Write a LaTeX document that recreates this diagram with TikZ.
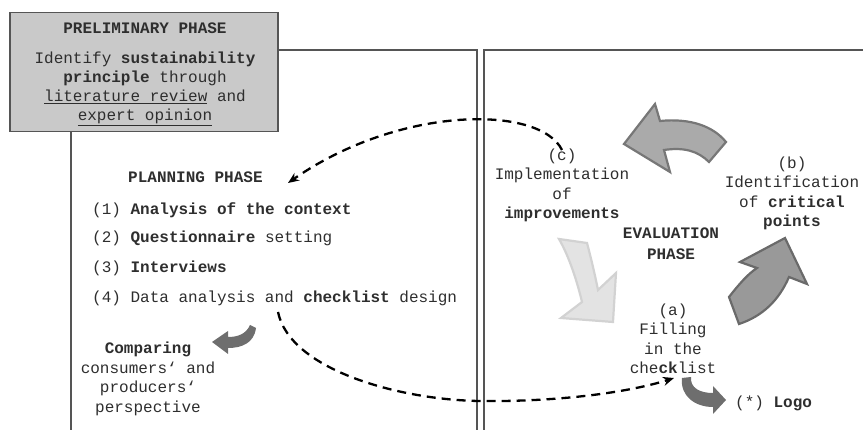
\documentclass[tikz,border=0pt]{standalone}
\usepackage{fontspec}
\setmainfont{Liberation Mono}
\usetikzlibrary{arrows.meta}
\definecolor{textc}{HTML}{2E2E2E}
\definecolor{boxline}{HTML}{555555}
\definecolor{prelimfill}{HTML}{C9C9C9}
\definecolor{arrowmid}{HTML}{AAAAAA}
\definecolor{arrowmidline}{HTML}{777777}
\definecolor{arrowlight}{HTML}{E3E3E3}
\definecolor{arrowlightline}{HTML}{D2D2D2}
\definecolor{arrowdark}{HTML}{999999}
\definecolor{arrowdarkline}{HTML}{6A6A6A}
\definecolor{smallarrow}{HTML}{6E6E6E}
\tikzset{
  txt/.style={font=\fontsize{16}{19.5}\selectfont, text=textc, inner sep=0pt, align=center},
  txtl/.style={font=\fontsize{16}{19.5}\selectfont, text=textc, inner sep=0pt, anchor=west},
  phasebox/.style={draw=boxline, line width=1.3pt},
  prelimbox/.style={draw=boxline, line width=1.6pt, fill=prelimfill},
  dashconn/.style={draw=black, line width=2.3pt, dash pattern=on 9pt off 6pt, -{Stealth[length=11pt,width=9pt]}},
  bigarrowmid/.style={fill=arrowmid, draw=arrowmidline, line width=2.2pt, line join=miter},
  bigarrowlight/.style={fill=arrowlight, draw=arrowlightline, line width=2.2pt, line join=miter},
  bigarrowdark/.style={fill=arrowdark, draw=arrowdarkline, line width=2.2pt, line join=miter},
  smallarr/.style={fill=smallarrow, draw=none}
}
\begin{document}
\begin{tikzpicture}[x=1pt,y=-1pt]
\useasboundingbox (0,0) rectangle (863,430);
% phase boxes
\draw[phasebox] (71,440) -- (71,50) -- (477,50) -- (477,440);
\draw[phasebox] (484,440) -- (484,50) -- (875,50);
% preliminary box
\node[prelimbox, minimum width=268pt, minimum height=119pt, inner sep=0pt] (prelim) at (144,72) {};
\node[txt] (prelimtitle) at (145,28) {\textbf{PRELIMINARY PHASE}};
\node[txt, font=\fontsize{16}{19}\selectfont] (prelimbody) at (145,89) {Identify \textbf{sustainability}\\\textbf{principle} through\\\underline{literature review} and\\\underline{expert opinion}};
% planning phase
\node[txtl] (plantitle) at (128,177) {\textbf{PLANNING PHASE}};
\node[txtl] (step1) at (92,210) {(1) \textbf{Analysis of the context}};
\node[txtl] (step2) at (92,238) {(2) \textbf{Questionnaire} setting};
\node[txtl] (step3) at (92,268) {(3) \textbf{Interviews}};
\node[txtl] (step4) at (92,298) {(4) Data analysis and \textbf{checklist} design};
\node[txt] (compare) at (148,379) {\textbf{Comparing}\\consumers` and\\producers`\\perspective};
% evaluation phase
\node[txt] (stepc) at (562,185.5) {(c)\\Implementation\\of\\\textbf{improvements}};
\node[txt] (stepb) at (792,193.5) {(b)\\Identification\\of \textbf{critical}\\\textbf{points}};
\node[txt, font=\fontsize{16}{21}\selectfont] (evaltitle) at (671,244) {\textbf{EVALUATION}\\\textbf{PHASE}};
\node[txt] (stepa) at (673,339) {(a)\\Filling\\in the\\che\textbf{ck}list};
\node[txtl] (logo) at (735,403) {(*) \textbf{Logo}};
% big cycle arrows
\path[bigarrowmid] (624,144) -- (655,104) -- (660,121) .. controls (690,118) and (713,126) .. (726,142) -- (709,162) .. controls (698,151) and (684,147) .. (664,150) -- (670,172) -- cycle;
\path[bigarrowlight] (559,239) -- (587,243) .. controls (591,258) and (595,275) .. (598,290) -- (616,273) -- (613,322) -- (561,318) -- (582,302) .. controls (578,285) and (570,258) .. cycle;
\path[bigarrowdark] (729,297) .. controls (740,283) and (748,274) .. (757,268) -- (740,262) -- (785,238) -- (807,284) -- (789,277) .. controls (779,300) and (763,316) .. (739,324) -- cycle;
% small arrows
\path[smallarr] (212,342) -- (228,331) -- (228,337) .. controls (238,337) and (246,334) .. (250,325) -- (256,328) .. controls (254,343) and (242,348) .. (228,348) -- (228,354) -- cycle;
\path[smallarr] (682,378) .. controls (680,396) and (695,407) .. (713,407) -- (713,414) -- (726,400) -- (713,386) -- (713,393) .. controls (700,393) and (690,388) .. (691,377) -- cycle;
% dashed connectors
\coordinate (cstart) at (562,150);
\coordinate (cend) at (288,183);
\coordinate (dstart) at (278,312);
\coordinate (dmid) at (480,401);
\coordinate (dend) at (674,378);
\draw[dashconn] (cstart) .. controls (540,105) and (400,105) .. (cend);
\draw[dashconn] (dstart) .. controls (290,370) and (400,400) .. (dmid) .. controls (560,402) and (630,392) .. (dend);
\end{tikzpicture}
\end{document}
